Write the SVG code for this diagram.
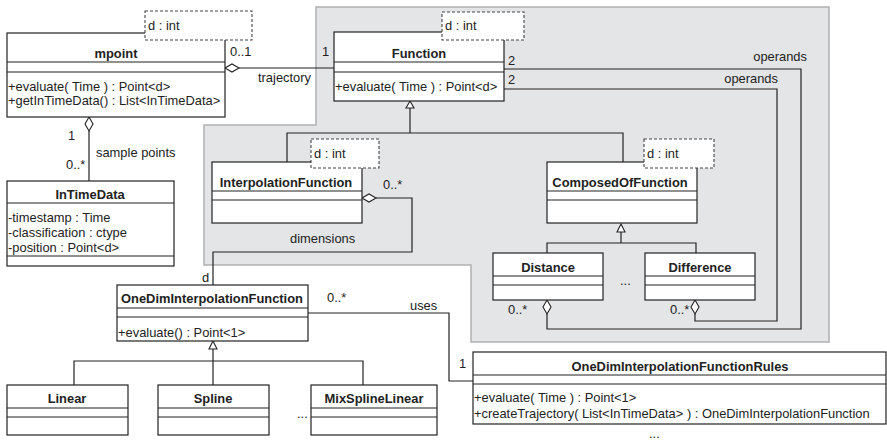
<svg xmlns="http://www.w3.org/2000/svg" width="887" height="440" viewBox="0 0 887 440">
<style>
text{font-family:"Liberation Sans",Arial,sans-serif;font-size:12.9px;fill:#222}
.b{font-weight:bold;text-anchor:middle}
.box{fill:#fff;stroke:#222;stroke-width:1.2}
.dash{fill:#fff;stroke:#444;stroke-width:1.1;stroke-dasharray:3,2}
.ln{fill:none;stroke:#222;stroke-width:1.2}
.tri{fill:#fff;stroke:#222;stroke-width:1.1}
.dia{fill:#fff;stroke:#222;stroke-width:1.1}
.r{text-anchor:end}
</style>
<rect width="887" height="440" fill="#fff"/>
<g id="region">
<polygon points="316,7 829,7 829,342 471,342 471,265 204,265 204,125 316,125" fill="#e4e5e7" stroke="#b0b0b0" stroke-width="1.5"/>
</g>
<g id="connectors">
<polyline class="ln" points="239,68 334,68"/>
<polygon class="dia" points="225,68 232,64 239,68 232,72"/>
<polyline class="ln" points="89,131 89,181"/>
<polygon class="dia" points="89,117 93,124 89,131 85,124"/>
<polyline class="ln" points="504,69 801,69 801,329 547,329 547,314"/>
<polygon class="dia" points="547,300 551,307 547,314 543,307"/>
<polyline class="ln" points="504,89 777,89 777,321 695,321 695,314"/>
<polygon class="dia" points="695,300 699,307 695,314 691,307"/>
<polyline class="ln" points="410,108 410,133"/>
<polyline class="ln" points="287,162 287,133 623,133 623,162"/>
<polygon class="tri" points="410,101 414,108 406,108"/>
<polyline class="ln" points="376,198 412,198 412,252 213,252 213,285"/>
<polygon class="dia" points="362,198 369,194 376,198 369,202"/>
<polyline class="ln" points="621,232 621,243"/>
<polyline class="ln" points="547,253 547,243 696,243 696,253"/>
<polygon class="tri" points="621,224 625,232 617,232"/>
<polyline class="ln" points="213,349 213,385"/>
<polyline class="ln" points="74,385 74,361 363,361 363,385"/>
<polygon class="tri" points="213,341 217,349 209,349"/>
<polyline class="ln" points="308,313 449,313 449,381 473,381"/>
</g>
<g id="mpoint">
<rect class="box" x="7" y="33" width="218" height="84"/>
<line class="ln" x1="7" y1="62" x2="225" y2="62"/>
<line class="ln" x1="7" y1="72" x2="225" y2="72"/>
<text class="b" x="116" y="58">mpoint</text>
<text x="8" y="91">+evaluate( Time ) : Point&lt;d&gt;</text>
<text x="8" y="105">+getInTimeData() : List&lt;InTimeData&gt;</text>
<rect class="dash" x="145" y="11" width="107" height="29"/>
<text x="148" y="30">d : int</text>
</g>
<g id="Function">
<rect class="box" x="334" y="32" width="170" height="69"/>
<line class="ln" x1="334" y1="62" x2="504" y2="62"/>
<line class="ln" x1="334" y1="72" x2="504" y2="72"/>
<text class="b" x="419" y="58">Function</text>
<text x="335" y="91">+evaluate( Time ) : Point&lt;d&gt;</text>
<rect class="dash" x="442" y="12" width="82" height="28"/>
<text x="445" y="30">d : int</text>
</g>
<g id="InTimeData">
<rect class="box" x="7" y="181" width="167" height="85"/>
<line class="ln" x1="7" y1="203" x2="174" y2="203"/>
<line class="ln" x1="7" y1="256" x2="174" y2="256"/>
<text class="b" x="90" y="199">InTimeData</text>
<text x="8" y="222">-timestamp : Time</text>
<text x="8" y="237">-classification : ctype</text>
<text x="8" y="252">-position : Point&lt;d&gt;</text>
</g>
<g id="InterpolationFunction">
<rect class="box" x="212" y="162" width="150" height="61"/>
<line class="ln" x1="212" y1="191" x2="362" y2="191"/>
<line class="ln" x1="212" y1="200" x2="362" y2="200"/>
<text class="b" x="286" y="187">InterpolationFunction</text>
<rect class="dash" x="311" y="139" width="68" height="29"/>
<text x="314" y="158">d : int</text>
</g>
<g id="ComposedOfFunction">
<rect class="box" x="547" y="162" width="150" height="61"/>
<line class="ln" x1="547" y1="191" x2="697" y2="191"/>
<line class="ln" x1="547" y1="200" x2="697" y2="200"/>
<text class="b" x="620" y="187">ComposedOfFunction</text>
<rect class="dash" x="644" y="139" width="70" height="29"/>
<text x="647" y="158">d : int</text>
</g>
<g id="Distance">
<rect class="box" x="493" y="253" width="110" height="47"/>
<line class="ln" x1="493" y1="276" x2="603" y2="276"/>
<line class="ln" x1="493" y1="285" x2="603" y2="285"/>
<text class="b" x="548" y="272">Distance</text>
</g>
<g id="Difference">
<rect class="box" x="645" y="253" width="110" height="47"/>
<line class="ln" x1="645" y1="276" x2="755" y2="276"/>
<line class="ln" x1="645" y1="285" x2="755" y2="285"/>
<text class="b" x="700" y="272">Difference</text>
</g>
<g id="OneDimInterpolationFunction">
<rect class="box" x="117" y="285" width="191" height="56"/>
<line class="ln" x1="117" y1="308" x2="308" y2="308"/>
<line class="ln" x1="117" y1="317" x2="308" y2="317"/>
<text class="b" x="212" y="303">OneDimInterpolationFunction</text>
<text x="118" y="337">+evaluate() : Point&lt;1&gt;</text>
</g>
<g id="Linear">
<rect class="box" x="7" y="385" width="121" height="50"/>
<line class="ln" x1="7" y1="408" x2="128" y2="408"/>
<line class="ln" x1="7" y1="417" x2="128" y2="417"/>
<text class="b" x="67" y="403">Linear</text>
</g>
<g id="Spline">
<rect class="box" x="158" y="385" width="111" height="50"/>
<line class="ln" x1="158" y1="408" x2="269" y2="408"/>
<line class="ln" x1="158" y1="417" x2="269" y2="417"/>
<text class="b" x="213" y="403">Spline</text>
</g>
<g id="MixSplineLinear">
<rect class="box" x="311" y="385" width="126" height="50"/>
<line class="ln" x1="311" y1="408" x2="437" y2="408"/>
<line class="ln" x1="311" y1="417" x2="437" y2="417"/>
<text class="b" x="374" y="403">MixSplineLinear</text>
</g>
<g id="OneDimInterpolationFunctionRules">
<rect class="box" x="473" y="352" width="413" height="72"/>
<line class="ln" x1="473" y1="375" x2="886" y2="375"/>
<line class="ln" x1="473" y1="384" x2="886" y2="384"/>
<text class="b" x="680" y="371">OneDimInterpolationFunctionRules</text>
<text x="474" y="402">+evaluate( Time ) : Point&lt;1&gt;</text>
<text x="474" y="418">+createTrajectory( List&lt;InTimeData&gt; ) : OneDimInterpolationFunction</text>
</g>
<g id="labels">
<text x="230" y="56">0..1</text>
<text x="322" y="56">1</text>
<text x="258" y="82">trajectory</text>
<text x="508" y="65">2</text>
<text x="508" y="84">2</text>
<text class="r" x="807" y="61">operands</text>
<text class="r" x="778" y="83">operands</text>
<text x="68" y="140">1</text>
<text x="96" y="157">sample points</text>
<text x="66" y="169">0..*</text>
<text x="383" y="189">0..*</text>
<text x="290" y="243">dimensions</text>
<text x="202" y="282">d</text>
<text x="327" y="302">0..*</text>
<text x="410" y="310">uses</text>
<text x="459" y="368">1</text>
<text x="508" y="314">0..*</text>
<text x="670" y="314">0..*</text>
<text x="620" y="285">...</text>
<text x="297" y="418">...</text>
<text x="649" y="438">...</text>
</g>
</svg>
